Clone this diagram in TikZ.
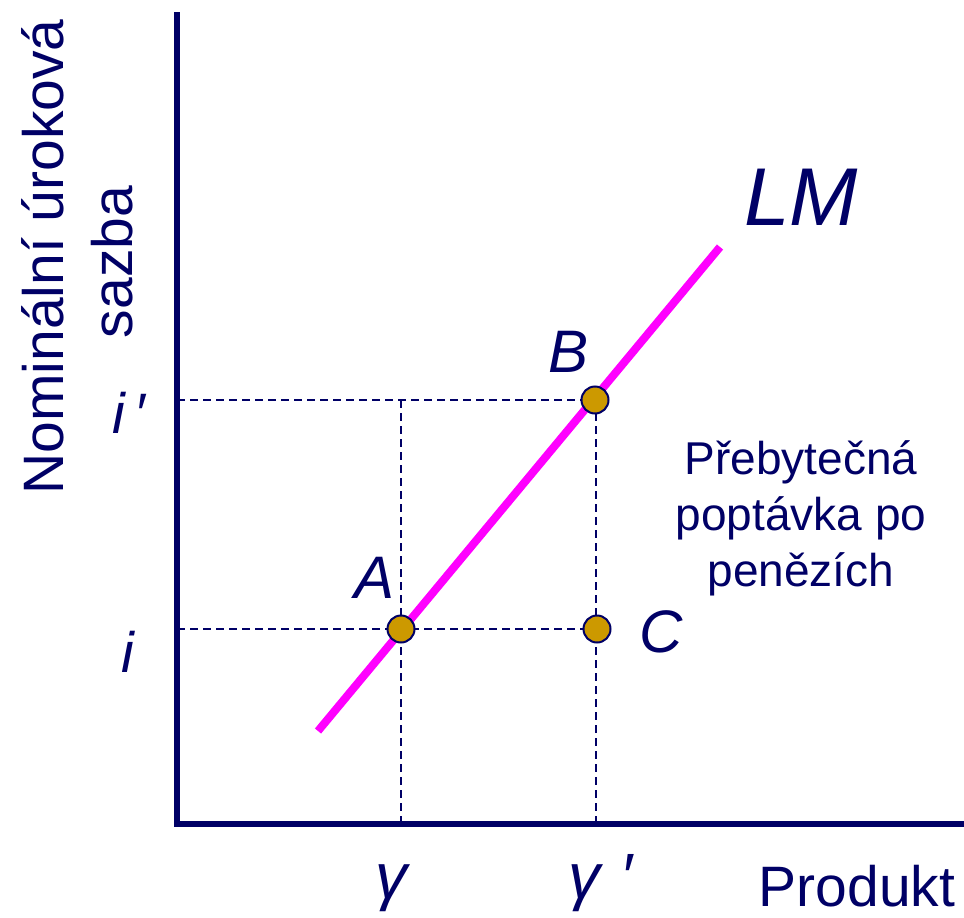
\documentclass[tikz,border=0pt]{standalone}
\usepackage{fontspec}
\setmainfont{Liberation Sans}
\definecolor{navy}{RGB}{0,0,102}
\definecolor{gold}{RGB}{204,153,0}
\definecolor{mag}{RGB}{255,0,255}
\begin{document}
\begin{tikzpicture}[x=1pt,y=-1pt,
  axis/.style={draw=navy,line width=6pt},
  guide/.style={draw=navy,line width=2.2pt,dash pattern=on 8pt off 5pt},
  curve/.style={draw=mag,line width=8pt},
  dot/.style={circle,draw=navy,line width=2pt,fill=gold,minimum size=27pt,inner sep=0pt},
  lbl/.style={text=navy,inner sep=0pt,font=\fontsize{57}{66}\selectfont},
  ptlbl/.style={text=navy,inner sep=0pt,font=\fontsize{60}{70}\selectfont\itshape},
  note/.style={text=navy,inner sep=0pt,align=center,font=\fontsize{46}{56}\selectfont}]
\useasboundingbox (0,0) rectangle (964,918);
% axes
\coordinate (top) at (177,12);
\coordinate (origin) at (177,824);
\coordinate (xend) at (964,824);
% guide coordinates
\coordinate (ip) at (177,400);
\coordinate (i0) at (177,629);
\coordinate (y0) at (401,824);
\coordinate (y1) at (596,824);
\coordinate (AB) at (401,400);
\coordinate (BB) at (596,400);
% dashed guides
\draw[guide] (ip) -- (BB);
\draw[guide] (i0) -- (597,629);
\draw[guide] (AB) -- (y0);
\draw[guide] (BB) -- (y1);
% LM curve
\coordinate (lm1) at (318,731);
\coordinate (lm2) at (720,247);
\draw[curve] (lm1) -- (lm2);
% axes on top
\draw[axis] (top) -- (origin) -- (xend);
% points
\node[dot] (A) at (401,629) {};
\node[dot] (B) at (595,400) {};
\node[dot] (C) at (597,629) {};
% labels
\node[ptlbl] (LA) at (375,578) {A};
\node[ptlbl] (LB) at (569,352) {B};
\node[ptlbl] (LC) at (661,632) {C};
\node[ptlbl,font=\fontsize{82}{90}\selectfont\itshape] (LLM) at (801,197) {LM};
\node[lbl,font=\fontsize{57}{66}\selectfont\itshape,anchor=base] (Lip) at (129,433) {i\,′};
\node[lbl,font=\fontsize{57}{66}\selectfont\itshape,anchor=base] (Li) at (128,672) {i};
\node[lbl,font=\fontsize{64}{70}\selectfont\itshape,anchor=base] (Ly) at (391,898) {γ};
\node[lbl,font=\fontsize{64}{70}\selectfont\itshape,anchor=base west] (Ly1) at (568,898) {γ\hspace{20pt}′};
\node[lbl,anchor=base] (Lprod) at (857,906) {Produkt};
\node[lbl,rotate=90,anchor=base] (Ly1a) at (63,257) {Nominální úroková};
\node[lbl,rotate=90,anchor=base] (Ly1b) at (132,262) {sazba};
\node[note] (N) at (801,518) {Přebytečná\\poptávka po\\penězích};
\end{tikzpicture}
\end{document}
